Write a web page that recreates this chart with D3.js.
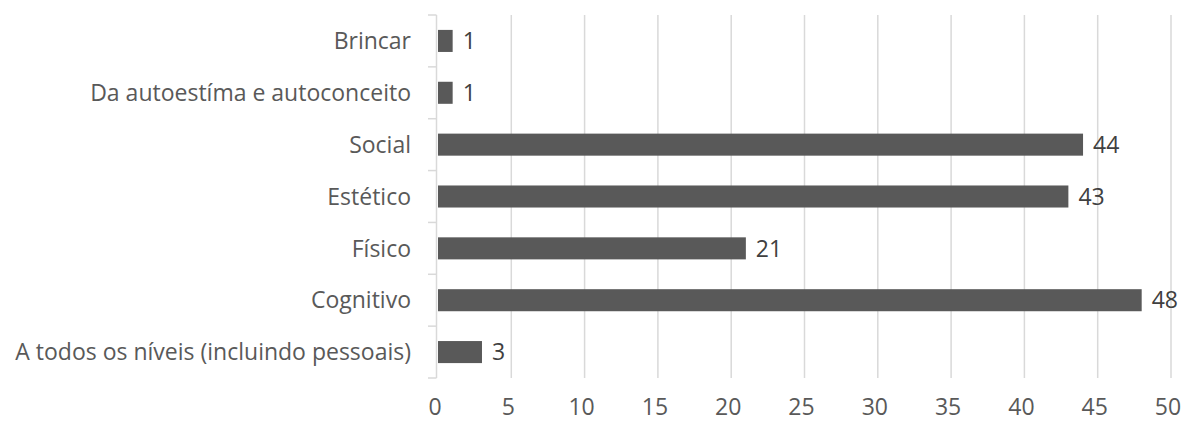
<!DOCTYPE html>
<html><head><meta charset="utf-8">
<script src="https://cdn.jsdelivr.net/npm/d3@7/dist/d3.min.js"></script>
<style>body{margin:0;background:#fff}svg{display:block}</style>
</head><body>
<svg id="c" width="1186" height="423"></svg>
<script>
const categories = ["Brincar","Da autoestíma e autoconceito","Social","Estético","Físico","Cognitivo","A todos os níveis (incluindo pessoais)"];
const values = [1,1,44,43,21,48,3];
const xTicks = [0,5,10,15,20,25,30,35,40,45,50];

(function(){
const svg = d3.select("#c");
const font = "'Open Sans', sans-serif";
const fs = 23;
const pL = 438, pR = 1171, pT = 15, pB = 378;
const x = d3.scaleLinear().domain([0,50]).range([pL,pR]);
const y = d3.scaleBand().domain(categories).range([pT,pB]).paddingInner(0.575).paddingOuter(0.2875);

svg.append("g").selectAll("line").data(xTicks.slice(1)).join("line")
  .attr("x1",d=>x(d)).attr("x2",d=>x(d)).attr("y1",pT).attr("y2",pB)
  .attr("stroke","#d9d9d9").attr("stroke-width",1.5);

const bounds = d3.range(categories.length+1).map(i=>pT+i*(pB-pT)/categories.length);
const ax = svg.append("g");
ax.append("line").attr("x1",pL-1.5).attr("x2",pL-1.5).attr("y1",pT).attr("y2",pB).attr("stroke","#d9d9d9").attr("stroke-width",1.5);
ax.selectAll("line.t").data(bounds).join("line").attr("class","t")
  .attr("x1",pL-10).attr("x2",pL-1.5).attr("y1",d=>d).attr("y2",d=>d)
  .attr("stroke","#d9d9d9").attr("stroke-width",1.5);

svg.append("g").selectAll("rect").data(values).join("rect")
  .attr("x",x(0)).attr("y",(d,i)=>y(categories[i]))
  .attr("width",d=>x(d)-x(0)).attr("height",y.bandwidth())
  .attr("fill","#595959");

svg.append("g").selectAll("text").data(values).join("text")
  .attr("x",d=>x(d)+10).attr("y",(d,i)=>y(categories[i])+y.bandwidth()/2)
  .attr("dy","0.36em").attr("font-family",font).attr("font-size",fs).attr("fill","#404040")
  .text(d=>d);

svg.append("g").selectAll("text").data(categories).join("text")
  .attr("x",pL-27).attr("y",d=>y(d)+y.bandwidth()/2)
  .attr("dy","0.36em").attr("text-anchor","end")
  .attr("font-family",font).attr("font-size",fs).attr("fill","#595959")
  .text(d=>d);

svg.append("g").selectAll("text").data(xTicks).join("text")
  .attr("x",d=>x(d)-3).attr("y",415).attr("text-anchor","middle")
  .attr("font-family",font).attr("font-size",fs).attr("fill","#595959")
  .text(d=>d);
})();
</script>
</body></html>
